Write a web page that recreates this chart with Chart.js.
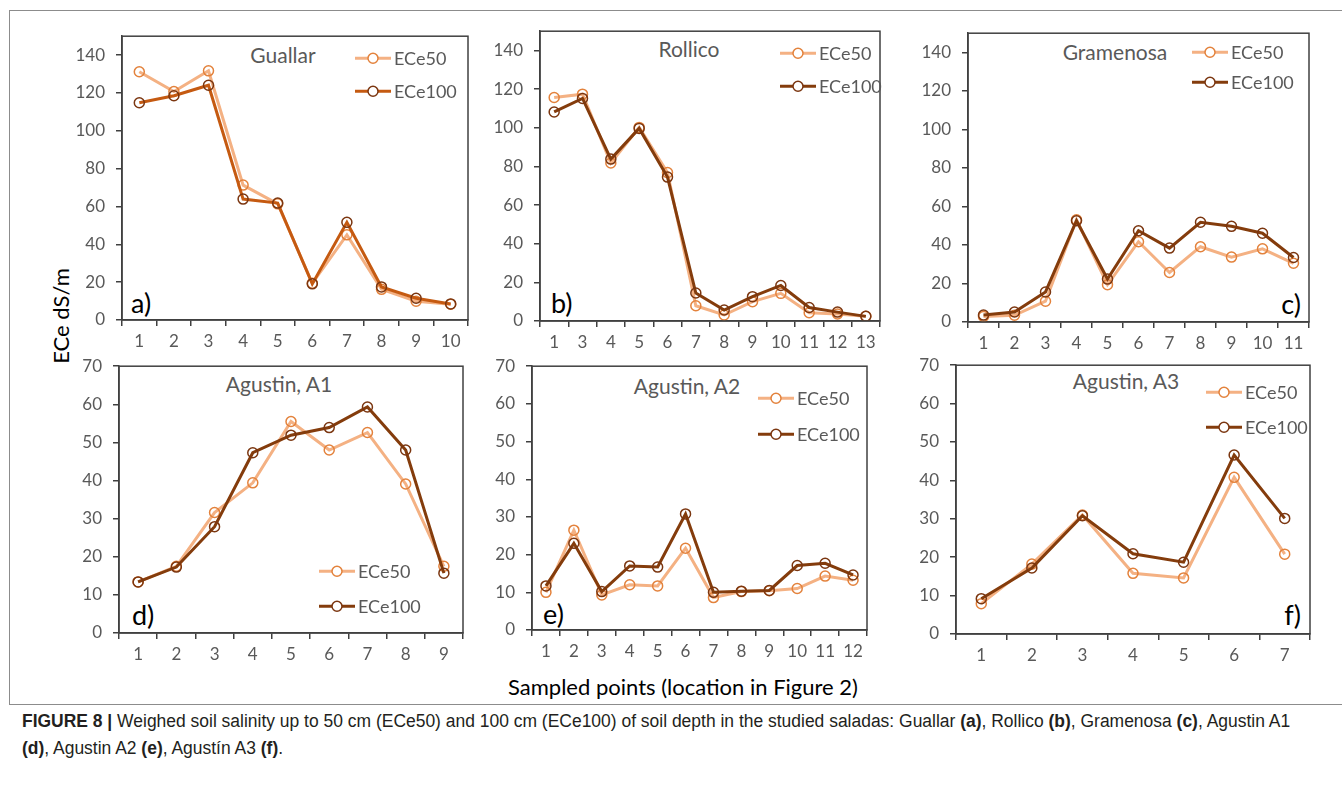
<!DOCTYPE html>
<html>
<head>
<meta charset="utf-8">
<script src="https://cdn.jsdelivr.net/npm/chart.js@4"></script>
<style>
  body { margin: 0; background: #fff; width: 1342px; height: 789px; position: relative; overflow: hidden; font-family: Lato, "Noto Sans", sans-serif; }
  .box { position: absolute; left: 9px; top: 10px; width: 1345px; height: 693px; border: 1px solid #8c8c8c; }
  canvas.panel { position: absolute; }
  .ttl { position: absolute; transform: translate(-50%, -50%); color: #595959; font-size: 21px; white-space: nowrap; }
  .let { position: absolute; transform: translateY(-50%); color: #000; font-size: 27px; white-space: nowrap; }
  .ylab { position: absolute; left: 60px; top: 316px; transform: translate(-50%, -50%) rotate(-90deg); font-size: 22px; color: #000; white-space: nowrap; }
  .xlab { position: absolute; left: 683px; top: 686px; transform: translate(-50%, -50%); font-size: 22px; color: #000; white-space: nowrap; }
  .cap { position: absolute; left: 22px; top: 708px; font-family: "Liberation Sans Narrow", "Arial Narrow", "Liberation Sans", sans-serif; font-size: 18px; line-height: 27px; color: #231f20; transform: scaleX(0.97); transform-origin: 0 0; white-space: nowrap; }
  .cap b { font-weight: bold; }
</style>
</head>
<body>
<div class="box"></div>
<div class="ylab">ECe dS/m</div>
<div class="xlab">Sampled points (location in Figure 2)</div>
<div class="cap"><b>FIGURE 8 |</b> Weighed soil salinity up to 50 cm (ECe50) and 100 cm (ECe100) of soil depth in the studied saladas: Guallar <b>(a)</b>, Rollico <b>(b)</b>, Gramenosa <b>(c)</b>, Agustin A1<br><b>(d)</b>, Agustin A2 <b>(e)</b>, Agustín A3 <b>(f)</b>.</div>

<script>
// ── Data ─────────────────────────────────────────────────────
const yTicksTop    = [0, 20, 40, 60, 80, 100, 120, 140];
const yTicksBottom = [0, 10, 20, 30, 40, 50, 60, 70];

const guallarPts    = ["1", "2", "3", "4", "5", "6", "7", "8", "9", "10"];
const guallarECe50  = [131.2, 120.8, 131.7, 71.3, 61.4, 19.4, 45.0, 16.2, 9.9, 8.3];
const guallarECe100 = [114.8, 118.5, 124.1, 63.9, 61.8, 19.1, 51.6, 17.5, 11.5, 8.5];

const rollicoPts    = ["1", "3", "4", "5", "6", "7", "8", "9", "10", "11", "12", "13"];
const rollicoECe50  = [115.7, 117.4, 81.8, 100.2, 76.8, 7.9, 3.1, 10.0, 14.3, 4.3, 3.6, 2.4];
const rollicoECe100 = [108.2, 115.2, 83.8, 99.7, 74.5, 14.5, 5.7, 12.6, 18.4, 7.0, 4.6, 2.4];

const gramenosaPts    = ["1", "2", "3", "4", "5", "6", "7", "8", "9", "10", "11"];
const gramenosaECe50  = [2.9, 3.5, 10.8, 53.1, 19.4, 41.7, 25.7, 39.1, 33.7, 38.0, 30.5];
const gramenosaECe100 = [3.6, 5.2, 15.6, 52.6, 22.3, 47.4, 38.4, 51.8, 49.7, 46.1, 33.5];

const a1Pts    = ["1", "2", "3", "4", "5", "6", "7", "8", "9"];
const a1ECe50  = [13.4, 17.5, 31.6, 39.4, 55.5, 48.0, 52.6, 39.1, 17.5];
const a1ECe100 = [13.4, 17.3, 27.9, 47.3, 51.9, 53.9, 59.3, 48.0, 15.7];

const a2Pts    = ["1", "2", "3", "4", "5", "6", "7", "8", "9", "10", "11", "12"];
const a2ECe50  = [10.0, 26.5, 9.3, 12.0, 11.7, 21.7, 8.6, 10.2, 10.4, 11.0, 14.3, 13.2];
const a2ECe100 = [11.7, 23.0, 10.2, 17.0, 16.7, 30.8, 10.0, 10.3, 10.5, 17.1, 17.7, 14.6];

const a3Pts    = ["1", "2", "3", "4", "5", "6", "7"];
const a3ECe50  = [7.9, 18.2, 31.0, 15.8, 14.6, 40.8, 20.8];
const a3ECe100 = [9.2, 17.2, 30.8, 20.9, 18.7, 46.6, 30.1];

// ── Barvy / styl ──────────────────────────────────────────────
const C50_LINE   = "#F4B183";
const C50_POINT  = "#E3823C";
const C100_POINT = "#7B3610";
const INK        = "#404040";
const TICK_TXT   = "#595959";

// Rozložení panelů (plocha grafu v px stránky)
const panels = [
  { title: "Guallar",     letter: "a)", pts: guallarPts,   e50: guallarECe50,   e100: guallarECe100,   yt: yTicksTop,    ymax: 150,
    rect: [122, 36, 468, 320],   line100: "#C55A11", legend: [355, 58, 91],   ttl: [283, 54],    let: [131, 302, "l"] },
  { title: "Rollico",     letter: "b)", pts: rollicoPts,   e50: rollicoECe50,   e100: rollicoECe100,   yt: yTicksTop,    ymax: 150,
    rect: [540, 31, 880, 321],   line100: "#843C0C", legend: [780, 53, 86],   ttl: [689, 48],    let: [551, 302, "l"] },
  { title: "Gramenosa",   letter: "c)", pts: gramenosaPts, e50: gramenosaECe50, e100: gramenosaECe100, yt: yTicksTop,    ymax: 150,
    rect: [968, 33, 1309, 322],  line100: "#843C0C", legend: [1192, 52, 82], ttl: [1115, 51],   let: [1301, 303, "r"] },
  { title: "Agustin, A1", letter: "d)", pts: a1Pts,        e50: a1ECe50,        e100: a1ECe100,        yt: yTicksBottom, ymax: 70,
    rect: [119, 366, 463, 633],  line100: "#843C0C", legend: [319, 571, 606], ttl: [279, 383],   let: [132, 614, "l"] },
  { title: "Agustin, A2", letter: "e)", pts: a2Pts,        e50: a2ECe50,        e100: a2ECe100,        yt: yTicksBottom, ymax: 70,
    rect: [532, 366, 867, 630],  line100: "#843C0C", legend: [758, 398, 434], ttl: [687, 385],   let: [543, 613, "l"] },
  { title: "Agustin, A3", letter: "f)", pts: a3Pts,        e50: a3ECe50,        e100: a3ECe100,        yt: yTicksBottom, ymax: 70,
    rect: [956, 365, 1310, 634], line100: "#843C0C", legend: [1206, 392, 427], ttl: [1126, 380],  let: [1301, 614, "r"] }
];

const PAD_L = 70, PAD_T = 12, PAD_R = 12, PAD_B = 45;

// Rámeček kolem plochy grafu
const frame = {
  id: "frame",
  afterDatasetsDraw(chart) {
    const { ctx, chartArea: a } = chart;
    ctx.save();
    ctx.strokeStyle = INK;
    ctx.lineWidth = 1.5;
    ctx.strokeRect(a.left, a.top, a.right - a.left, a.bottom - a.top);
    ctx.restore();
  }
};

// Legenda uvnitř plochy grafu (Excel styl: čára + kroužek)
const inLegend = {
  id: "inLegend",
  afterDraw(chart, args, opts) {
    const ctx = chart.ctx;
    ctx.save();
    chart.data.datasets.forEach((ds, i) => {
      const y = opts.ys[i];
      const x0 = opts.x, x1 = opts.x + 36, xm = (x0 + x1) / 2;
      ctx.strokeStyle = ds.borderColor;
      ctx.lineWidth = ds.borderWidth;
      ctx.beginPath(); ctx.moveTo(x0, y); ctx.lineTo(x1, y); ctx.stroke();
      ctx.fillStyle = "#fff";
      ctx.strokeStyle = ds.pointBorderColor;
      ctx.lineWidth = ds.pointBorderWidth;
      ctx.beginPath(); ctx.arc(xm, y, ds.pointRadius, 0, Math.PI * 2); ctx.fill(); ctx.stroke();
      ctx.fillStyle = TICK_TXT;
      ctx.font = "18px Lato, 'Noto Sans', sans-serif";
      ctx.textBaseline = "middle";
      ctx.fillText(ds.label, x1 + 3, y + 1);
    });
    ctx.restore();
  }
};

const tickFont = { family: "Lato, 'Noto Sans', sans-serif", size: 17 };

// Vytvoří canvas + graf; "extra" = místo, které si Chart.js nahoře přidá navíc
function buildPanel(p, extra) {
  const [l, t, r, b] = p.rect;
  const W = r - l + PAD_L + PAD_R, H = b - t + PAD_T + PAD_B + extra;
  const cx = l - PAD_L, cy = t - PAD_T - extra;

  const cv = document.createElement("canvas");
  cv.className = "panel";
  cv.width = W; cv.height = H;
  cv.style.left = cx + "px"; cv.style.top = cy + "px";
  cv.style.width = W + "px"; cv.style.height = H + "px";
  document.body.appendChild(cv);

  const chart = new Chart(cv, {
    type: "line",
    data: {
      labels: p.pts,
      datasets: [
        { label: "ECe50", data: p.e50, borderColor: C50_LINE, borderWidth: 3,
          pointRadius: 5, pointBorderWidth: 1.5, pointBorderColor: C50_POINT,
          pointBackgroundColor: "rgba(255,255,255,0)", order: 1, tension: 0 },
        { label: "ECe100", data: p.e100, borderColor: p.line100, borderWidth: 3,
          pointRadius: 5, pointBorderWidth: 1.5, pointBorderColor: C100_POINT,
          pointBackgroundColor: "rgba(255,255,255,0)", order: 0, tension: 0 }
      ]
    },
    options: {
      responsive: false,
      animation: false,
      devicePixelRatio: 1,
      layout: { padding: { left: 0, top: PAD_T, right: PAD_R, bottom: 0 }, autoPadding: false },
      plugins: {
        legend: { display: false },
        tooltip: { enabled: false },
        inLegend: { x: p.legend[0] - cx, ys: [p.legend[1] - cy, p.legend[2] - cy] }
      },
      scales: {
        x: {
          type: "category",
          offset: true,
          grid: { offset: true, drawOnChartArea: false, tickLength: 6, color: INK, lineWidth: 1.5 },
          border: { display: true, color: INK, width: 1.5 },
          ticks: { color: TICK_TXT, font: tickFont, padding: 5, maxRotation: 0, autoSkip: false },
          afterFit: s => { s.height = PAD_B; }
        },
        y: {
          min: 0, max: p.ymax,
          afterBuildTicks: s => { s.ticks = p.yt.map(v => ({ value: v })); },
          grid: { drawOnChartArea: false, tickLength: 6, color: INK, lineWidth: 1.5 },
          border: { display: true, color: INK, width: 1.5 },
          ticks: { color: TICK_TXT, font: tickFont, padding: 11 },
          afterFit: s => { s.width = PAD_L; }
        }
      }
    },
    plugins: [frame, inLegend]
  });
  return { chart, cv };
}

panels.forEach(p => {
  const ttl = document.createElement("div");
  ttl.className = "ttl"; ttl.textContent = p.title;
  ttl.style.left = p.ttl[0] + "px"; ttl.style.top = p.ttl[1] + "px";
  document.body.appendChild(ttl);

  const lt = document.createElement("div");
  lt.className = "let"; lt.textContent = p.letter;
  lt.style.top = p.let[1] + "px";
  if (p.let[2] === "l") lt.style.left = p.let[0] + "px";
  else lt.style.right = (1342 - p.let[0]) + "px";
  document.body.appendChild(lt);

  // první průchod jen změří posun plochy grafu, druhý ho vyrovná
  let built = buildPanel(p, 0);
  const extra = built.chart.chartArea.top - PAD_T;
  if (Math.abs(extra) > 0.3) {
    built.chart.destroy();
    built.cv.remove();
    built = buildPanel(p, extra);
  }
});
</script>
</body>
</html>
